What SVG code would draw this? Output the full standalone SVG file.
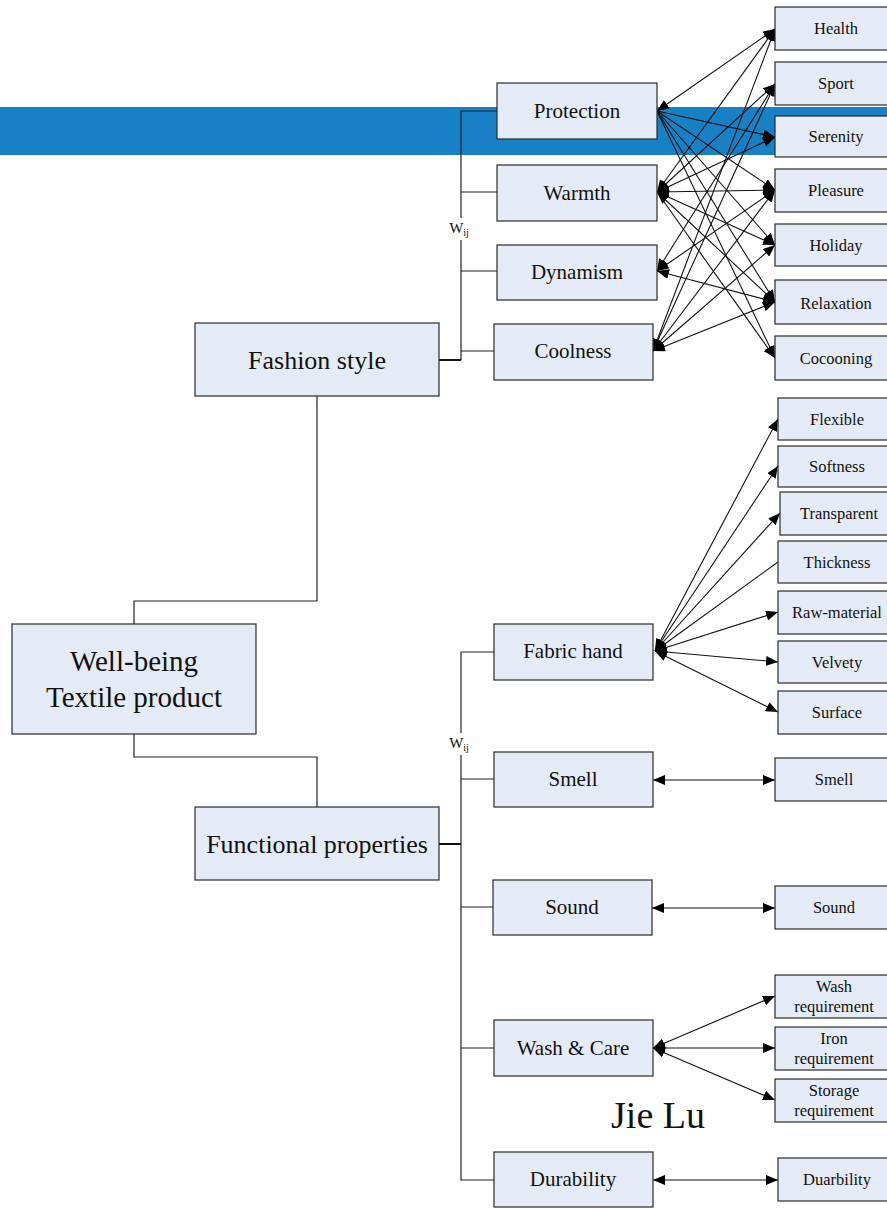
<svg xmlns="http://www.w3.org/2000/svg" width="887" height="1211" viewBox="0 0 887 1211">
  <style>
    .box { fill: #e5ebf6; stroke: #2a2a2a; stroke-width: 1.2; }
    .t { font-family: "Liberation Serif", "Times New Roman", serif; fill: #111; text-anchor: middle; dominant-baseline: central; }
    .big { font-size: 29px; }
    .mid { font-size: 26px; }
    .sub { font-size: 21px; }
    .leaf { font-size: 16.5px; }
    .tree { fill: none; stroke: #222; stroke-width: 1.2; }
    .thick { fill: none; stroke: #111; stroke-width: 2; }
    .arc { fill: none; stroke: #111; stroke-width: 1.1; marker-end: url(#ah); marker-start: url(#ahs); }
    .one { fill: none; stroke: #111; stroke-width: 1.1; marker-end: url(#ah); }
    .plain { fill: none; stroke: #111; stroke-width: 1.1; }
  </style>
  <defs>
    <marker id="ah" viewBox="0 0 12 10" refX="12" refY="5" markerWidth="12" markerHeight="10" markerUnits="userSpaceOnUse" orient="auto">
      <path d="M0,0 L12,5 L0,10 Z" fill="#000"/>
    </marker>
    <marker id="ahs" viewBox="0 0 12 10" refX="0" refY="5" markerWidth="12" markerHeight="10" markerUnits="userSpaceOnUse" orient="auto">
      <path d="M12,0 L0,5 L12,10 Z" fill="#000"/>
    </marker>
  </defs>

  <rect width="887" height="1211" fill="#fff"/>
  <!-- horizontal band behind the upper branch -->
  <rect x="0" y="107" width="887" height="48" fill="#1880c4"/>

  <g id="connectors">
    <!-- root to the two main criteria -->
    <path class="tree" d="M134,624 V601 H317 V396"/>
    <path class="tree" d="M134,734 V757 H317 V807"/>
    <!-- fashion style branch -->
    <path class="thick" d="M439,360 H461"/>
    <path class="tree" d="M461,360 V240 M461,218 V111 H497 M461,192 H497 M461,271 H497 M461,351 H494"/>
    <!-- functional properties branch -->
    <path class="thick" d="M439,844 H461"/>
    <path class="tree" d="M461,652 V733 M461,755 V1180 H494 M461,652 H494 M461,779 H494 M461,907 H493 M461,1048 H494"/>

    <!-- fashion style criteria to well-being feelings -->
    <path class="arc" d="M657,111 L775,29"/>
    <path class="one" d="M657,111 L775,137"/>
    <path class="one" d="M657,111 L775,190"/>
    <path class="one" d="M657,111 L775,245"/>
    <path class="one" d="M657,111 L775,302"/>
    <path class="one" d="M657,111 L775,358"/>

    <path class="arc" d="M657,192 L775,29"/>
    <path class="arc" d="M657,192 L775,84"/>
    <path class="arc" d="M657,192 L775,137"/>
    <path class="arc" d="M657,192 L775,190"/>
    <path class="one" d="M657,192 L775,245"/>
    <path class="arc" d="M657,192 L775,302"/>
    <path class="one" d="M657,192 L775,358"/>

    <path class="arc" d="M657,271 L775,84"/>
    <path class="arc" d="M657,271 L775,190"/>
    <path class="arc" d="M657,271 L775,302"/>

    <path class="arc" d="M653,351 L775,29"/>
    <path class="arc" d="M653,351 L775,84"/>
    <path class="arc" d="M653,351 L775,190"/>
    <path class="arc" d="M653,351 L775,245"/>
    <path class="arc" d="M653,351 L775,302"/>

    <!-- fabric hand -->
    <path class="arc" d="M655,651 L778,419"/>
    <path class="arc" d="M655,651 L778,466"/>
    <path class="arc" d="M655,651 L780,513"/>
    <path class="plain" d="M655,651 L778,562"/>
    <path class="arc" d="M655,651 L778,612"/>
    <path class="arc" d="M655,651 L778,662"/>
    <path class="arc" d="M655,651 L778,712"/>

    <!-- single links -->
    <path class="arc" d="M653,780 H775"/>
    <path class="arc" d="M652,908 H775"/>
    <path class="arc" d="M653,1048 L775,996"/>
    <path class="arc" d="M653,1048 L775,1048"/>
    <path class="arc" d="M653,1048 L775,1100"/>
    <path class="arc" d="M653,1180 H778"/>
  </g>

  <!-- Wij labels on the branch lines -->
  <text class="t" x="459" y="228" font-size="15">W<tspan font-size="10" dy="4">ij</tspan></text>
  <text class="t" x="459" y="743" font-size="15">W<tspan font-size="10" dy="4">ij</tspan></text>

  <g id="root">
    <rect class="box" x="12" y="624" width="244" height="110"/>
    <text class="t big" x="134" y="661">Well-being</text>
    <text class="t big" x="134" y="697">Textile product</text>
  </g>
  <g id="fashion-style">
    <rect class="box" x="195" y="323" width="244" height="73"/>
    <text class="t mid" x="317" y="360">Fashion style</text>
  </g>
  <g id="functional-properties">
    <rect class="box" x="195" y="807" width="244" height="73"/>
    <text class="t mid" x="317" y="844">Functional properties</text>
  </g>

  <g id="protection"><rect class="box" x="497" y="83" width="160" height="56"/><text class="t sub" x="577" y="111">Protection</text></g>
  <g id="warmth"><rect class="box" x="497" y="165" width="160" height="56"/><text class="t sub" x="577" y="193">Warmth</text></g>
  <g id="dynamism"><rect class="box" x="497" y="245" width="160" height="55"/><text class="t sub" x="577" y="272">Dynamism</text></g>
  <g id="coolness"><rect class="box" x="494" y="324" width="159" height="56"/><text class="t sub" x="573" y="351">Coolness</text></g>
  <g id="fabric-hand"><rect class="box" x="494" y="624" width="159" height="56"/><text class="t sub" x="573" y="651">Fabric hand</text></g>
  <g id="smell"><rect class="box" x="494" y="752" width="159" height="55"/><text class="t sub" x="573" y="779">Smell</text></g>
  <g id="sound"><rect class="box" x="493" y="880" width="159" height="55"/><text class="t sub" x="572" y="907">Sound</text></g>
  <g id="wash-care"><rect class="box" x="494" y="1020" width="159" height="56"/><text class="t sub" x="573" y="1048">Wash &amp; Care</text></g>
  <g id="durability"><rect class="box" x="494" y="1152" width="159" height="55"/><text class="t sub" x="573" y="1179">Durability</text></g>

  <g id="health"><rect class="box" x="775" y="7" width="114" height="43"/><text class="t leaf" x="836" y="28">Health</text></g>
  <g id="sport"><rect class="box" x="775" y="62" width="114" height="43"/><text class="t leaf" x="836" y="83">Sport</text></g>
  <g id="serenity"><rect class="box" x="775" y="116" width="114" height="41"/><text class="t leaf" x="836" y="136">Serenity</text></g>
  <g id="pleasure"><rect class="box" x="775" y="169" width="114" height="43"/><text class="t leaf" x="836" y="190">Pleasure</text></g>
  <g id="holiday"><rect class="box" x="775" y="224" width="114" height="42"/><text class="t leaf" x="836" y="245">Holiday</text></g>
  <g id="relaxation"><rect class="box" x="775" y="280" width="114" height="44"/><text class="t leaf" x="836" y="303">Relaxation</text></g>
  <g id="cocooning"><rect class="box" x="775" y="336" width="114" height="44"/><text class="t leaf" x="836" y="358">Cocooning</text></g>

  <g id="flexible"><rect class="box" x="778" y="398" width="111" height="42"/><text class="t leaf" x="837" y="419">Flexible</text></g>
  <g id="softness"><rect class="box" x="778" y="446" width="111" height="41"/><text class="t leaf" x="837" y="466">Softness</text></g>
  <g id="transparent"><rect class="box" x="780" y="492" width="109" height="43"/><text class="t leaf" x="839" y="513">Transparent</text></g>
  <g id="thickness"><rect class="box" x="778" y="541" width="111" height="42"/><text class="t leaf" x="837" y="562">Thickness</text></g>
  <g id="raw-material"><rect class="box" x="778" y="591" width="111" height="43"/><text class="t leaf" x="837" y="612">Raw-material</text></g>
  <g id="velvety"><rect class="box" x="778" y="641" width="111" height="42"/><text class="t leaf" x="837" y="662">Velvety</text></g>
  <g id="surface"><rect class="box" x="778" y="691" width="111" height="43"/><text class="t leaf" x="837" y="712">Surface</text></g>

  <g id="smell-leaf"><rect class="box" x="775" y="758" width="114" height="43"/><text class="t leaf" x="834" y="779">Smell</text></g>
  <g id="sound-leaf"><rect class="box" x="775" y="886" width="114" height="43"/><text class="t leaf" x="834" y="907">Sound</text></g>
  <g id="wash-requirement"><rect class="box" x="775" y="975" width="114" height="43"/><text class="t leaf" x="834" y="986">Wash</text><text class="t leaf" x="834" y="1006">requirement</text></g>
  <g id="iron-requirement"><rect class="box" x="775" y="1027" width="114" height="43"/><text class="t leaf" x="834" y="1038">Iron</text><text class="t leaf" x="834" y="1058">requirement</text></g>
  <g id="storage-requirement"><rect class="box" x="775" y="1079" width="114" height="43"/><text class="t leaf" x="834" y="1090">Storage</text><text class="t leaf" x="834" y="1110">requirement</text></g>
  <g id="duarbility"><rect class="box" x="778" y="1158" width="111" height="43"/><text class="t leaf" x="837" y="1179">Duarbility</text></g>

  <text class="t" x="658" y="1115" font-size="38">Jie Lu</text>
</svg>
